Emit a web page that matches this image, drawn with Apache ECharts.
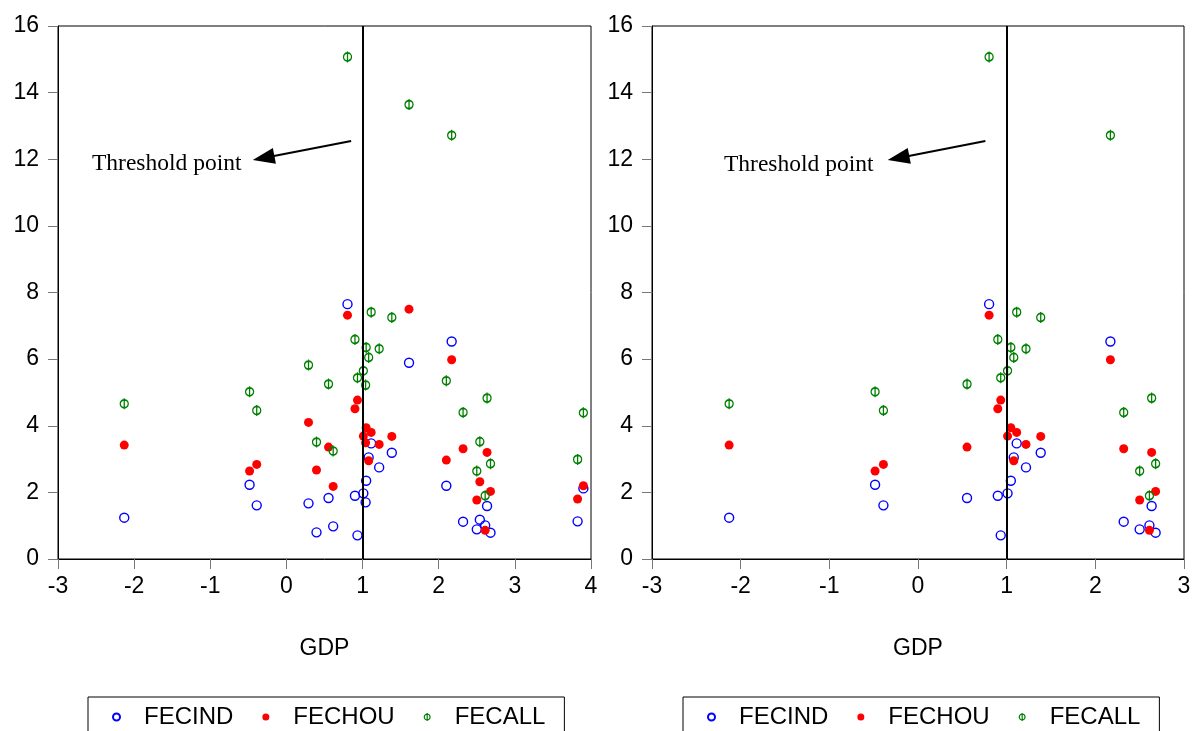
<!DOCTYPE html>
<html>
<head>
<meta charset="utf-8">
<title>FEC vs GDP</title>
<script src="https://cdn.jsdelivr.net/npm/echarts@6/dist/echarts.min.js"></script>
<style>
  html, body { margin: 0; padding: 0; background: #fff; }
  #chart { width: 1194px; height: 731px; }
</style>
</head>
<body>
<div id="chart"></div>
<script>
// one entry per country
const gdp = [-2.13, -0.484, -0.39, 0.29, 0.395, 0.553, 0.614, 0.802, 0.90, 0.933,
  1.01, 1.04, 1.047, 1.08, 1.113, 1.218, 1.384, 1.61, 2.10, 2.17,
  2.32, 2.50, 2.54, 2.61, 2.635, 2.68, 3.824, 3.90];
const fecind = [1.24, 2.23, 1.61, 1.67, 0.80, 1.83, 0.98, 7.65, 1.90, 0.71,
  1.97, 1.70, 2.35, 3.05, 3.47, 2.75, 3.19, 5.89, 2.20, 6.53,
  1.12, 0.89, 1.18, 1.01, 1.59, 0.79, 1.13, 2.12];
const fechou = [3.42, 2.64, 2.84, 4.10, 2.67, 3.36, 2.18, 7.32, 4.51, 4.77,
  3.69, 3.49, 3.94, 2.95, 3.80, 3.44, 3.68, 7.50, 2.97, 5.98,
  3.31, 1.77, 2.32, 0.86, 3.20, 2.03, 1.80, 2.20];
const fecall = [4.66, 5.02, 4.46, 5.82, 3.51, 5.25, 3.24, 15.07, 6.59, 5.44,
  5.65, 5.22, 6.35, 6.05, 7.41, 6.31, 7.25, 13.64, 5.35, 12.72,
  4.40, 2.64, 3.52, 1.90, 4.83, 2.86, 2.99, 4.39];
// countries that also appear in the right panel (index into the arrays above)
const rightPanel = [0, 1, 2, 5, 7, 8, 9, 10, 12, 13, 14, 15, 16, 19, 20, 21, 23, 24, 25];

const threshold = 1;
// arrow start / end in data coords, [left panel, right panel]
const arrowFrom = [[0.85, 12.55], [0.76, 12.55]];
const arrowTo = [[-0.30, 12.04], [-0.22, 12.04]];

const sans = 'Liberation Sans, Arial, sans-serif';
const serif = 'Liberation Serif, Times New Roman, serif';
const phi = 'path://M4,5.5 A4,4 0 1 1 -4,5.5 A4,4 0 1 1 4,5.5 Z M0,0 L0,11';

const pick = (arr, idx) => idx.map((i) => [gdp[i], arr[i]]);
const allIdx = gdp.map((g, i) => i);

const makeAxes = (gi, xmax) => ({
  x: {
    type: 'value', gridIndex: gi, min: -3, max: xmax, interval: 1,
    name: 'GDP', nameLocation: 'middle', nameGap: 78,
    nameTextStyle: { fontFamily: sans, fontSize: 23, color: '#000' },
    axisLine: { show: true, onZero: false, lineStyle: { color: '#000', width: 1 } },
    axisTick: { show: true, inside: false, length: 10, lineStyle: { color: '#777' } },
    axisLabel: { margin: 16, fontFamily: sans, fontSize: 23, color: '#000' },
    splitLine: { show: false }
  },
  y: {
    type: 'value', gridIndex: gi, min: 0, max: 16, interval: 2,
    axisLine: { show: true, onZero: false, lineStyle: { color: '#000', width: 1 } },
    axisTick: { show: true, inside: false, length: 10, lineStyle: { color: '#777' } },
    axisLabel: { margin: 19, fontFamily: sans, fontSize: 23, color: '#000' },
    splitLine: { show: false }
  }
});

const makeSeries = (gi, idx) => [
  {
    name: 'FECIND', type: 'scatter', xAxisIndex: gi, yAxisIndex: gi,
    data: pick(fecind, idx), symbol: 'circle', symbolSize: 9,
    itemStyle: { color: 'rgba(0,0,0,0)', borderColor: '#0000ff', borderWidth: 1.4, opacity: 1 },
    markLine: {
      silent: true, animation: false,
      label: { show: false },
      symbol: ['none', 'none'],
      lineStyle: { color: '#000', width: 2, type: 'solid' },
      data: [
        { xAxis: threshold },
        [
          { coord: arrowFrom[gi], symbol: 'none' },
          { coord: arrowTo[gi], symbol: 'triangle', symbolSize: [16, 22] }
        ]
      ]
    }
  },
  {
    name: 'FECHOU', type: 'scatter', xAxisIndex: gi, yAxisIndex: gi,
    data: pick(fechou, idx), symbol: 'circle', symbolSize: 9,
    itemStyle: { color: '#ff0000', opacity: 1 }
  },
  {
    name: 'FECALL', type: 'scatter', xAxisIndex: gi, yAxisIndex: gi,
    data: pick(fecall, idx), symbol: phi, symbolSize: [8, 11],
    itemStyle: { color: 'rgba(0,0,0,0)', borderColor: '#008000', borderWidth: 1.5, opacity: 1 }
  }
];

const leftAxes = makeAxes(0, 4);
const rightAxes = makeAxes(1, 3);

const legendBase = {
  data: [
    { name: 'FECIND' },
    { name: 'FECHOU' },
    { name: 'FECALL', icon: phi, itemStyle: { color: 'rgba(0,0,0,0)', borderColor: '#008000', borderWidth: 1.2 } }
  ],
  top: 697,
  orient: 'horizontal',
  itemWidth: 7,
  itemHeight: 8,
  itemGap: 29,
  padding: [8, 19, 8, 24],
  borderColor: '#000',
  borderWidth: 1,
  textStyle: { fontFamily: sans, fontSize: 24, color: '#000', padding: [0, 0, 0, 19] },
  selectedMode: false
};

const chart = echarts.init(document.getElementById('chart'), null, { renderer: 'canvas' });
chart.setOption({
  animation: false,
  backgroundColor: '#fff',
  grid: [
    { left: 58, top: 26, width: 533, height: 533, show: true, borderColor: '#000', borderWidth: 1, containLabel: false, outerBoundsMode: 'none' },
    { left: 652, top: 26, width: 532, height: 533, show: true, borderColor: '#000', borderWidth: 1, containLabel: false, outerBoundsMode: 'none' }
  ],
  xAxis: [leftAxes.x, rightAxes.x],
  yAxis: [leftAxes.y, rightAxes.y],
  legend: [
    Object.assign({}, legendBase, { left: 88 }),
    Object.assign({}, legendBase, { left: 683 })
  ],
  graphic: [
    { type: 'text', left: 92, top: 152, style: { text: 'Threshold point', font: '23.5px ' + serif, fill: '#000' } },
    { type: 'text', left: 724, top: 153, style: { text: 'Threshold point', font: '23.5px ' + serif, fill: '#000' } }
  ],
  series: [...makeSeries(0, allIdx), ...makeSeries(1, rightPanel)]
});
window.addEventListener('resize', chart.resize);
</script>
</body>
</html>
